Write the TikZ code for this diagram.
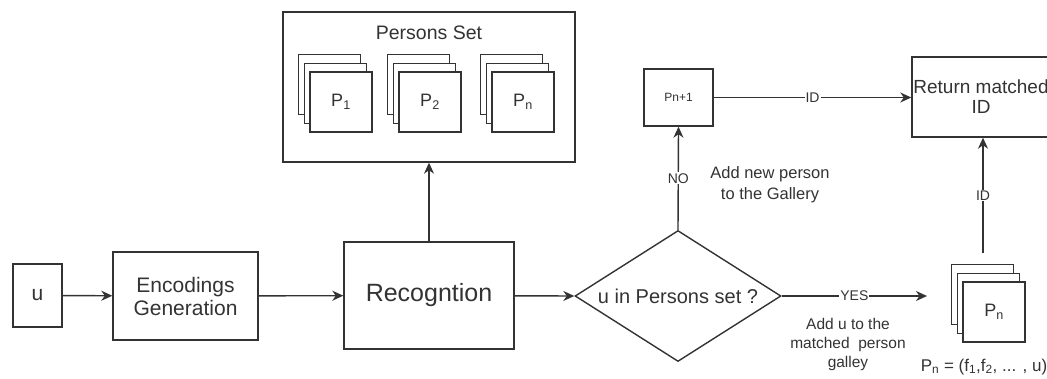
\documentclass[tikz,border=0pt]{standalone}
\usepackage{fontspec}
\setmainfont{Liberation Sans}
\usetikzlibrary{shapes.geometric,arrows.meta}
\definecolor{ink}{HTML}{333333}
\tikzset{
  box/.style={draw=ink, line width=1.4pt, fill=white, text=ink, align=center, inner sep=0pt},
  sheet/.style={box, minimum width=62pt, minimum height=60pt},
  conn/.style={draw=ink, line width=1.4pt, -{Stealth[length=11pt,width=10pt,inset=3.5pt]}},
  lbl/.style={fill=white, text=ink, inner sep=1pt, font=\fontsize{14}{14}\selectfont},
  note/.style={text=ink, align=center},
}
\newcommand\mystack[4]{%
  \node[sheet] (#1c) at ({#2-11.4},{#3-17.4}) {};
  \node[sheet] (#1b) at ({#2-5.7},{#3-8.7}) {};
  \node[sheet, font=\fontsize{18}{20}\selectfont] (#1) at (#2,#3) {#4};
}
\begin{document}
\begin{tikzpicture}[x=1pt,y=-1pt]
\useasboundingbox (0,0) rectangle (1047,378);

% main chain
\node[box, minimum width=49pt, minimum height=63pt, font=\fontsize{21}{24}\selectfont] (u) at (37.5,295.5) {u};
\node[box, minimum width=145pt, minimum height=88pt, font=\fontsize{21}{25}\selectfont] (enc) at (185.5,296) {Encodings\\[-2pt]Generation};
\node[box, minimum width=170pt, minimum height=107pt, font=\fontsize{25}{28}\selectfont] (rec) at (429,295.5) {Recogntion};

% persons set
\node[box, minimum width=292pt, minimum height=150pt] (set) at (429,87) {};
\node[note, font=\fontsize{19.5}{22}\selectfont] (settitle) at (429,33) {Persons Set};
\mystack{p1}{341}{102}{P\textsubscript{1}}
\mystack{p2}{430}{102}{P\textsubscript{2}}
\mystack{pn}{523}{102}{P\textsubscript{n}}

% decision
\node[box, diamond, minimum width=206pt, minimum height=131pt, shape aspect=1.57, font=\fontsize{20}{22}\selectfont] (dec) at (678,296) {u in Persons set ?};

% new person
\node[box, minimum width=69pt, minimum height=57pt, font=\fontsize{12}{14}\selectfont] (pn1) at (678.5,97.5) {Pn+1};

% return
\node[box, minimum width=138pt, minimum height=80pt, font=\fontsize{19}{22}\selectfont] (ret) at (981,97) {Return matched\\[-2pt]ID};

% matched stack
\mystack{pm}{994}{312}{P\textsubscript{n}}
\node[note, font=\fontsize{17}{19}\selectfont] (pmlabel) at (984,367) {P\textsubscript{n} = (f\textsubscript{1},f\textsubscript{2}, ... , u)};

% connectors
\draw[conn] (u) -- (enc);
\draw[conn] (enc) -- (rec);
\draw[conn] (rec.north) -- (set.south);
\draw[conn] (rec) -- (dec.west);
\draw[conn] (dec.north) -- node[lbl, pos=0.5] (nolbl) {NO} (pn1.south);
\draw[conn] (pn1) -- node[lbl, pos=0.5] (id1) {ID} (ret.west |- pn1);
\coordinate (yesend) at (927,296);
\draw[conn] (dec.east) -- node[lbl, pos=0.5] (yeslbl) {YES} (yesend);
\coordinate (pmtop) at (983,253);
\draw[conn] (pmtop) -- node[lbl, pos=0.5] (id2) {ID} (pmtop |- ret.south);

% notes
\node[note, font=\fontsize{16.5}{21}\selectfont] (addnew) at (770,185) {Add new person\\to the Gallery};
\node[note, font=\fontsize{15.5}{19}\selectfont] (addu) at (848,344) {Add u to the\\matched\ \ person\\galley};
\end{tikzpicture}
\end{document}
